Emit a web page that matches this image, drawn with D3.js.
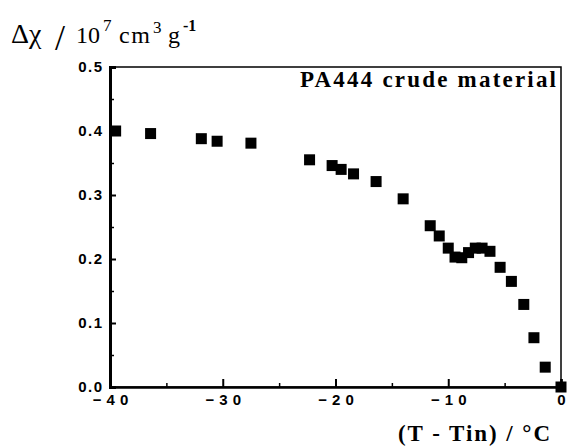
<!DOCTYPE html>
<html>
<head>
<meta charset="utf-8">
<script src="https://cdn.jsdelivr.net/npm/d3@7"></script>
<style>
  body { margin: 0; background: #fff; }
  svg { display: block; }
</style>
</head>
<body>
<div id="chart"></div>
<script>
// values
const deltaT = [-39.5, -36.4, -31.9, -30.5, -27.5, -22.3, -20.3, -19.5, -18.4, -16.4, -14.0, -11.6, -10.8,
  -10.0, -9.4, -8.8, -8.2, -7.6, -7.0, -6.3, -5.4, -4.4, -3.3, -2.4, -1.4, 0];
const deltaChi = [0.400, 0.396, 0.388, 0.384, 0.381, 0.355, 0.346, 0.340, 0.333, 0.321, 0.294, 0.252, 0.236,
  0.217, 0.203, 0.202, 0.210, 0.217, 0.217, 0.212, 0.187, 0.165, 0.129, 0.077, 0.031, 0.0];
const xTicks = [-40, -30, -20, -10, 0];
const xMinorTicks = [-35, -25, -15, -5];
const yTicks = [0, 0.1, 0.2, 0.3, 0.4, 0.5];
const yMinorTicks = [0.05, 0.15, 0.25, 0.35, 0.45];
const seriesLabel = "PA444 crude material";
const xTitle = "(T - Tin) / °C";

const width = 567;
const height = 447;
const margin = { top: 67, right: 6, bottom: 60, left: 110 };
const innerWidth = width - margin.left - margin.right;
const innerHeight = height - margin.top - margin.bottom;

const svg = d3.select("#chart")
  .append("svg")
  .attr("width", width)
  .attr("height", height);

const chart = svg.append("g")
  .attr("transform", `translate(${margin.left},${margin.top})`);

const x = d3.scaleLinear().domain([-40, 0]).range([0, innerWidth]);
const y = d3.scaleLinear().domain([0, 0.5]).range([innerHeight, 0]);

const sans = "'Liberation Sans', Arial, sans-serif";
const serif = "'Liberation Serif', 'Times New Roman', serif";

// frame
chart.append("rect")
  .attr("x", 0)
  .attr("y", 0)
  .attr("width", innerWidth)
  .attr("height", innerHeight)
  .attr("fill", "none")
  .attr("stroke", "#000")
  .attr("stroke-width", 1.5);

// y axis
chart.append("g")
  .call(d3.axisLeft(y).tickValues(yTicks).tickSize(-6).tickPadding(8).tickFormat(d3.format(".1f")))
  .call((g) => g.select(".domain").attr("stroke-width", 3))
  .call((g) => g.selectAll(".tick line").attr("stroke-width", 2))
  .call((g) => g.selectAll("text")
    .attr("font-family", sans)
    .attr("font-weight", 700)
    .attr("font-size", 15)
    .attr("letter-spacing", 1.5)
    .attr("dx", 1.5)
    .attr("fill", "#000"));

chart.append("g")
  .call(d3.axisLeft(y).tickValues(yMinorTicks).tickSize(-4).tickFormat(""))
  .call((g) => g.select(".domain").remove())
  .call((g) => g.selectAll(".tick line").attr("stroke-width", 1.5));

// x axis
chart.append("g")
  .attr("transform", `translate(0,${innerHeight})`)
  .call(d3.axisBottom(x).tickValues(xTicks).tickSize(-8).tickPadding(7).tickFormat(d3.format("d")))
  .call((g) => g.select(".domain").attr("stroke-width", 2.5))
  .call((g) => g.selectAll(".tick line").attr("stroke-width", 2))
  .call((g) => g.selectAll("text")
    .attr("font-family", sans)
    .attr("font-weight", 700)
    .attr("font-size", 15)
    .attr("letter-spacing", 5)
    .attr("dx", 2.5)
    .attr("fill", "#000"));

chart.append("g")
  .attr("transform", `translate(0,${innerHeight})`)
  .call(d3.axisBottom(x).tickValues(xMinorTicks).tickSize(-4).tickFormat(""))
  .call((g) => g.select(".domain").remove())
  .call((g) => g.selectAll(".tick line").attr("stroke-width", 1.5));

// markers
const points = deltaT.map((t, i) => ({ t, chi: deltaChi[i] }));
const markerSize = 11;

chart.selectAll("rect.point")
  .data(points)
  .enter()
  .append("rect")
  .attr("class", "point")
  .attr("x", (d) => x(d.t) - markerSize / 2)
  .attr("y", (d) => y(d.chi) - markerSize / 2)
  .attr("width", markerSize)
  .attr("height", markerSize)
  .attr("fill", "#000");

// series label inside the frame
chart.append("text")
  .attr("x", 190)
  .attr("y", 20)
  .attr("font-family", serif)
  .attr("font-weight", 700)
  .attr("font-size", 23)
  .attr("textLength", 256)
  .attr("lengthAdjust", "spacing")
  .attr("fill", "#000")
  .text(seriesLabel);

// y axis title, top left
const yTitle = svg.append("text")
  .attr("y", 43)
  .attr("font-family", serif)
  .attr("fill", "#000");

yTitle.append("tspan").attr("x", 11).attr("font-size", 28).text("Δχ");
yTitle.append("tspan").attr("x", 55).attr("dy", 7).attr("font-size", 36).text("/");
yTitle.append("tspan").attr("x", 76).attr("dy", -7).attr("font-size", 24).text("10");
yTitle.append("tspan").attr("x", 103).attr("dy", -12).attr("font-size", 17).text("7");
yTitle.append("tspan").attr("x", 119).attr("dy", 12).attr("font-size", 24).attr("textLength", 31).text("cm");
yTitle.append("tspan").attr("x", 153).attr("dy", -10).attr("font-size", 17).text("3");
yTitle.append("tspan").attr("x", 168).attr("dy", 10).attr("font-size", 24).text("g");
yTitle.append("tspan").attr("x", 183).attr("dy", -12).attr("font-size", 16).attr("font-weight", 700).text("-1");

// x axis title, bottom right
svg.append("text")
  .attr("x", 398)
  .attr("y", 441)
  .attr("font-family", serif)
  .attr("font-weight", 700)
  .attr("font-size", 23)
  .attr("textLength", 152)
  .attr("lengthAdjust", "spacing")
  .attr("fill", "#000")
  .text(xTitle);
</script>
</body>
</html>
